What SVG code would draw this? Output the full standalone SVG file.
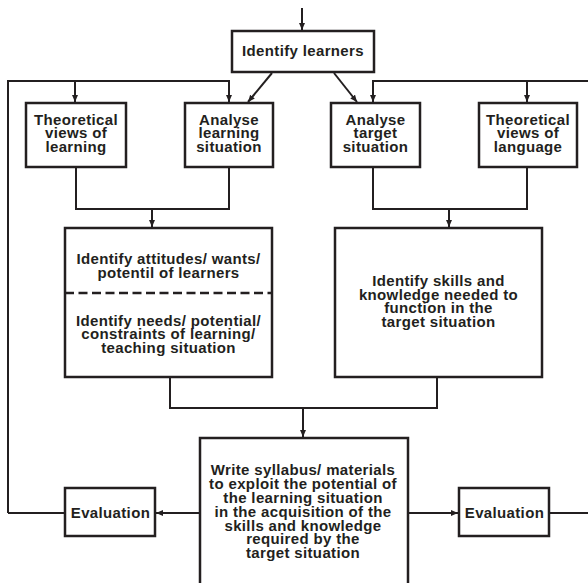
<svg xmlns="http://www.w3.org/2000/svg" width="588" height="583" viewBox="0 0 588 583">
<style>
.box{fill:#fff;stroke:#231f20;stroke-width:2.5}
.ln{fill:none;stroke:#231f20;stroke-width:2}
.t{font-family:"Liberation Sans",Arial,sans-serif;font-weight:bold;font-size:15px;letter-spacing:0.35px;fill:#231f20;text-anchor:middle}
</style>
<defs>
<marker id="ah" markerUnits="userSpaceOnUse" markerWidth="8" markerHeight="7" refX="7" refY="3" orient="auto">
<path d="M0,0 L7,3 L0,6 z" fill="#231f20"/>
</marker>
</defs>
<rect width="588" height="583" fill="#fff"/>
<g id="connectors">
<path class="ln" d="M302,8 V30" marker-end="url(#ah)"/>
<path class="ln" d="M272,73 L248,102" marker-end="url(#ah)"/>
<path class="ln" d="M334,73 L357,102" marker-end="url(#ah)"/>
<path class="ln" d="M8,513 V81 H229 V102" marker-end="url(#ah)"/>
<path class="ln" d="M75,81 V102" marker-end="url(#ah)"/>
<path class="ln" d="M588,81 H373 V102" marker-end="url(#ah)"/>
<path class="ln" d="M527,81 V102" marker-end="url(#ah)"/>
<path class="ln" d="M76,167 V209 H229 V167"/>
<path class="ln" d="M152,209 V227" marker-end="url(#ah)"/>
<path class="ln" d="M373,167 V209 H527 V167"/>
<path class="ln" d="M449,209 V227" marker-end="url(#ah)"/>
<path class="ln" d="M170,377 V408 H437 V377"/>
<path class="ln" d="M303,408 V437" marker-end="url(#ah)"/>
<path class="ln" d="M200,513 H156" marker-end="url(#ah)"/>
<path class="ln" d="M65,513 H8"/>
<path class="ln" d="M408,513 H458" marker-end="url(#ah)"/>
<path class="ln" d="M549,513 H588"/>
</g>
<g id="identify-learners">
<rect class="box" x="232" y="31" width="142" height="41"/>
<text class="t" x="303" y="56">Identify learners</text>
</g>
<g id="theoretical-learning">
<rect class="box" x="26" y="103" width="100" height="64"/>
<text class="t" x="76" y="124.5">Theoretical</text>
<text class="t" x="76" y="138">views of</text>
<text class="t" x="76" y="151.5">learning</text>
</g>
<g id="analyse-learning">
<rect class="box" x="185" y="103" width="88" height="64"/>
<text class="t" x="229" y="124.5">Analyse</text>
<text class="t" x="229" y="138">learning</text>
<text class="t" x="229" y="151.5">situation</text>
</g>
<g id="analyse-target">
<rect class="box" x="331" y="103" width="89" height="64"/>
<text class="t" x="375.5" y="124.5">Analyse</text>
<text class="t" x="375.5" y="138">target</text>
<text class="t" x="375.5" y="151.5">situation</text>
</g>
<g id="theoretical-language">
<rect class="box" x="479" y="103" width="98" height="64"/>
<text class="t" x="528" y="124.5">Theoretical</text>
<text class="t" x="528" y="138">views of</text>
<text class="t" x="528" y="151.5">language</text>
</g>
<g id="identify-attitudes-needs">
<rect class="box" x="65" y="228" width="207" height="149"/>
<path d="M65,293 H272" fill="none" stroke="#231f20" stroke-width="2.5" stroke-dasharray="9,4.5"/>
<text class="t" x="168.5" y="263.5">Identify attitudes/ wants/</text>
<text class="t" x="168.5" y="277.5">potentil of learners</text>
<text class="t" x="168.5" y="325.5">Identify needs/ potential/</text>
<text class="t" x="168.5" y="339">constraints of learning/</text>
<text class="t" x="168.5" y="352.5">teaching situation</text>
</g>
<g id="identify-skills">
<rect class="box" x="335" y="228" width="207" height="149"/>
<text class="t" x="438.5" y="286">Identify skills and</text>
<text class="t" x="438.5" y="299.5">knowledge needed to</text>
<text class="t" x="438.5" y="313">function in the</text>
<text class="t" x="438.5" y="326.5">target situation</text>
</g>
<g id="write-syllabus">
<rect class="box" x="200" y="438" width="208" height="160"/>
<text class="t" x="303" y="474.5">Write syllabus/ materials</text>
<text class="t" x="303" y="488.5">to exploit the potential of</text>
<text class="t" x="303" y="502.5">the learning situation</text>
<text class="t" x="303" y="516.5">in the acquisition of the</text>
<text class="t" x="303" y="530.5">skills and knowledge</text>
<text class="t" x="303" y="544">required by the</text>
<text class="t" x="303" y="558">target situation</text>
</g>
<g id="evaluation-left">
<rect class="box" x="65" y="488" width="90" height="48"/>
<text class="t" x="110.5" y="517.5">Evaluation</text>
</g>
<g id="evaluation-right">
<rect class="box" x="459" y="488" width="90" height="48"/>
<text class="t" x="504.5" y="517.5">Evaluation</text>
</g>
</svg>
